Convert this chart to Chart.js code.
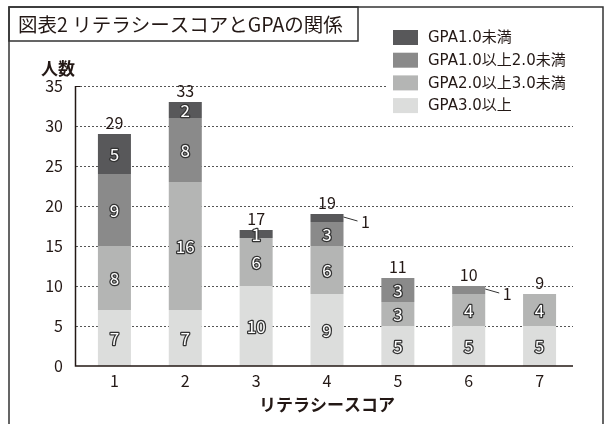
<!DOCTYPE html>
<html>
<head>
<meta charset="utf-8">
<script src="https://cdn.jsdelivr.net/npm/chart.js@4.4.0/dist/chart.umd.min.js"></script>
<style>
    body { margin: 0; background: #fff; }
    canvas { display: block; }
</style>
</head>
<body>
<canvas id="myChart" width="609" height="424"></canvas>
<script>
// データ
var scoreLabels = ['1', '2', '3', '4', '5', '6', '7'];
var gpa30 = [7, 7, 10, 9, 5, 5, 5];       // GPA3.0以上
var gpa20 = [8, 16, 6, 6, 3, 4, 4];       // GPA2.0以上3.0未満
var gpa10 = [9, 8, 0, 3, 3, 1, 0];        // GPA1.0以上2.0未満
var gpa00 = [5, 2, 1, 1, 0, 0, 0];        // GPA1.0未満
var yTicks = [0, 5, 10, 15, 20, 25, 30, 35];

var seriesNames = ['GPA3.0以上', 'GPA2.0以上3.0未満', 'GPA1.0以上2.0未満', 'GPA1.0未満'];
var seriesColors = ['#dcdddc', '#b4b5b4', '#8a8a8a', '#58585a'];

// 値が1で外に出すラベル (データセット番号, カテゴリ番号)
var outsideLabels = [[3, 3], [2, 5]];

var FONT = '"Noto Sans CJK JP", "Noto Sans", sans-serif';
var LEGEND_FONT = '"DejaVu Sans", "Noto Sans CJK JP", sans-serif';

var drawPlugin = {
    id: 'drawPlugin',
    beforeDatasetsDraw: function (chart) {
        var ctx = chart.ctx;
        var yScale = chart.scales.y;
        ctx.save();
        ctx.strokeStyle = '#555';
        ctx.lineWidth = 1;
        ctx.setLineDash([2, 2]);
        yTicks.forEach(function (v) {
            if (v === 0) return;
            var y = Math.round(yScale.getPixelForValue(v)) + 0.5;
            ctx.beginPath();
            ctx.moveTo(76, y);
            ctx.lineTo(573, y);
            ctx.stroke();
        });
        ctx.restore();
    },
    afterDatasetsDraw: function (chart) {
        var ctx = chart.ctx;
        var yScale = chart.scales.y;
        ctx.save();

        // 軸
        ctx.strokeStyle = '#231815';
        ctx.lineWidth = 1.5;
        ctx.beginPath();
        ctx.moveTo(75.5, yScale.getPixelForValue(35));
        ctx.lineTo(75.5, yScale.getPixelForValue(0));
        ctx.lineTo(573, yScale.getPixelForValue(0));
        ctx.stroke();
        ctx.beginPath();
        ctx.moveTo(75.5, yScale.getPixelForValue(35) + 0.5);
        ctx.lineTo(80, yScale.getPixelForValue(35) + 0.5);
        ctx.lineWidth = 1;
        ctx.stroke();

        // 棒の中の数字
        ctx.font = '17px ' + FONT;
        ctx.textAlign = 'center';
        ctx.textBaseline = 'middle';
        ctx.lineJoin = 'round';
        chart.data.datasets.forEach(function (ds, i) {
            var meta = chart.getDatasetMeta(i);
            meta.data.forEach(function (bar, j) {
                var v = ds.data[j];
                if (!v) return;
                var isOut = outsideLabels.some(function (o) { return o[0] === i && o[1] === j; });
                var cy = (bar.y + bar.base) / 2;
                if (isOut) {
                    var rx = bar.x + bar.width / 2;
                    ctx.strokeStyle = '#333';
                    ctx.lineWidth = 1;
                    ctx.beginPath();
                    ctx.moveTo(rx, cy - 1);
                    ctx.lineTo(rx + 14, cy + 3);
                    ctx.stroke();
                    ctx.fillStyle = '#231815';
                    ctx.font = '16px ' + FONT;
                    ctx.fillText(String(v), rx + 22, cy + 4);
                    ctx.font = '17px ' + FONT;
                } else {
                    ctx.strokeStyle = '#333';
                    ctx.lineWidth = 2.5;
                    ctx.strokeText(String(v), bar.x, cy + 1);
                    ctx.fillStyle = '#fff';
                    ctx.fillText(String(v), bar.x, cy + 1);
                }
            });
        });

        // 合計
        ctx.fillStyle = '#231815';
        ctx.font = '16px ' + FONT;
        scoreLabels.forEach(function (lab, j) {
            var total = gpa30[j] + gpa20[j] + gpa10[j] + gpa00[j];
            var x = chart.getDatasetMeta(0).data[j].x;
            ctx.fillText(String(total), x, yScale.getPixelForValue(total) - 11);
        });
        ctx.restore();
    },
    afterDraw: function (chart) {
        var ctx = chart.ctx;
        ctx.save();

        // 凡例
        ctx.fillStyle = '#fff';
        ctx.fillRect(387, 26, 200, 92);
        ctx.font = '15px ' + LEGEND_FONT;
        ctx.textAlign = 'left';
        ctx.textBaseline = 'middle';
        for (var k = 0; k < 4; k++) {
            var idx = 3 - k;
            var cy = 37.5 + k * 22.7;
            ctx.fillStyle = seriesColors[idx];
            ctx.fillRect(393, cy - 7.5, 25, 15);
            ctx.fillStyle = '#231815';
            ctx.fillText(seriesNames[idx], 428, cy + 1);
        }

        // 軸タイトル
        ctx.font = 'bold 17px ' + FONT;
        ctx.fillText('人数', 41, 69);
        ctx.textAlign = 'center';
        ctx.fillText('リテラシースコア', 327, 405);

        // 枠
        ctx.strokeStyle = '#333';
        ctx.lineWidth = 1.5;
        ctx.beginPath();
        ctx.moveTo(9, 424);
        ctx.lineTo(9, 7);
        ctx.lineTo(603, 7);
        ctx.lineTo(603, 424);
        ctx.stroke();
        ctx.strokeRect(9, 7, 349, 34);

        ctx.fillStyle = '#231815';
        ctx.textAlign = 'left';
        ctx.font = '19.5px ' + FONT;
        ctx.fillText('図表2 リテラシースコアとGPAの関係', 18, 25);
        ctx.restore();
    }
};

var datasets = [];
[gpa30, gpa20, gpa10, gpa00].forEach(function (arr, i) {
    datasets.push({
        label: seriesNames[i],
        data: arr,
        backgroundColor: seriesColors[i],
        borderWidth: 0,
        barPercentage: 0.466,
        categoryPercentage: 1
    });
});

const ctx = document.getElementById('myChart').getContext('2d');
const chart = new Chart(ctx, {
    type: 'bar',
    data: {
        labels: scoreLabels,
        datasets: datasets
    },
    options: {
        responsive: false,
        animation: false,
        devicePixelRatio: 1,
        layout: {
            padding: { left: 0, right: 34, top: 86, bottom: 0 }
        },
        plugins: {
            legend: { display: false },
            tooltip: { enabled: false }
        },
        scales: {
            x: {
                stacked: true,
                grid: { display: false, drawTicks: false },
                border: { display: false },
                ticks: {
                    color: '#231815',
                    font: { size: 16, family: FONT },
                    padding: 5
                },
                afterFit: function (scale) { scale.height = 58; }
            },
            y: {
                stacked: true,
                min: 0,
                max: 35,
                grid: { display: false, drawTicks: false },
                border: { display: false },
                ticks: {
                    stepSize: 5,
                    color: '#231815',
                    font: { size: 16, family: FONT },
                    padding: 16
                },
                afterFit: function (scale) { scale.width = 79; }
            }
        }
    },
    plugins: [drawPlugin]
});
</script>
</body>
</html>
